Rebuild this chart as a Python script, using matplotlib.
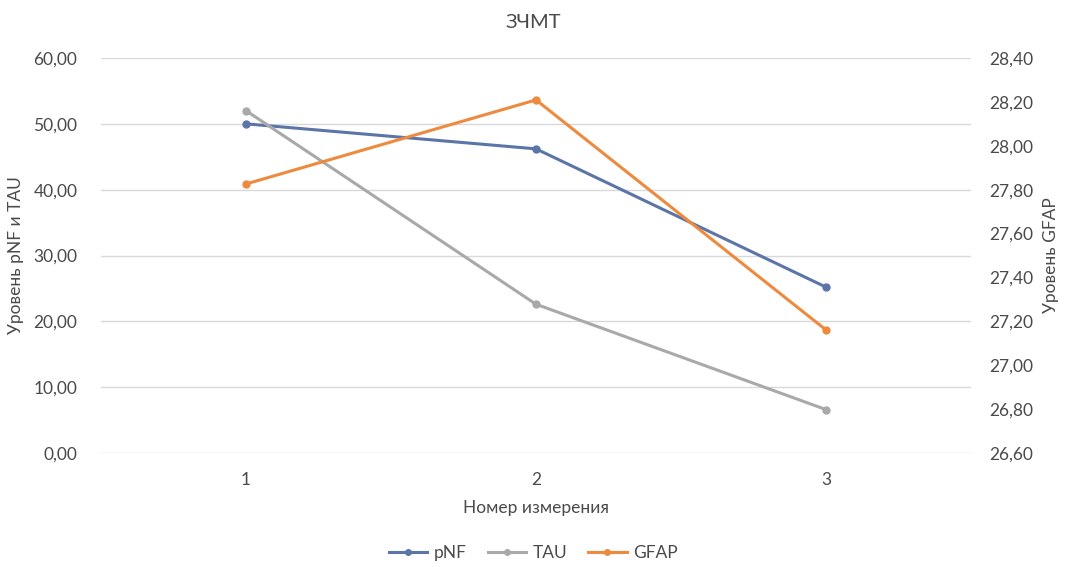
import matplotlib
matplotlib.use("Agg")
import matplotlib.pyplot as plt
from matplotlib.ticker import FuncFormatter, MultipleLocator

categories = ["1", "2", "3"]
pnf = [50.0, 46.2, 25.2]
tau = [52.0, 22.6, 6.6]
gfap = [27.826, 28.209, 27.161]

plt.rcParams['font.family'] = ['Lato', 'DejaVu Sans']

fig = plt.figure(figsize=(10.67, 5.67), dpi=100)
ax = fig.add_axes([0.0947, 0.201, 0.8153, 0.6967])
ax2 = ax.twinx()

x = list(range(len(categories)))
txt = '#4A4A4A'
l1, = ax.plot(x, pnf, color='#5B75A8', lw=2.2, marker='o', ms=5, label='pNF')
l2, = ax.plot(x, tau, color='#A9A9A9', lw=2.2, marker='o', ms=5, label='TAU')
l3, = ax2.plot(x, gfap, color='#ED8A3E', lw=2.2, marker='o', ms=5, label='GFAP')

ax.set_xlim(-0.5, 2.5)
ax.set_ylim(0, 60)
ax2.set_ylim(26.6, 28.4)
ax.yaxis.set_major_locator(MultipleLocator(10))
ax2.yaxis.set_major_locator(MultipleLocator(0.2))
fmt = FuncFormatter(lambda v, p: f"{v:.2f}".replace('.', ','))
ax.yaxis.set_major_formatter(fmt)
ax2.yaxis.set_major_formatter(fmt)
ax.set_xticks(x)
ax.set_xticklabels(categories)

ax.grid(axis='y', color='#D9D9D9', lw=1)
ax.set_axisbelow(True)
for a in (ax, ax2):
    for s in a.spines.values():
        s.set_visible(False)
    a.tick_params(length=0, labelsize=12.5, colors=txt)
ax.tick_params(axis='y', pad=17)
ax2.tick_params(axis='y', pad=13)
ax.tick_params(axis='x', pad=14)

ax.set_xlabel('Номер измерения', fontsize=12.5, color=txt, labelpad=8)
ax.set_ylabel('Уровень pNF и TAU', fontsize=12.5, color=txt, labelpad=7)
ax2.set_ylabel('Уровень GFAP', fontsize=12.5, color=txt, labelpad=7)
fig.text(0.5, 0.96, 'ЗЧМТ', ha='center', va='center', fontsize=14.5, color=txt)

fig.legend(handles=[l1, l2, l3], loc='center', bbox_to_anchor=(0.5, 0.025), ncol=3,
           frameon=False, fontsize=12.5, labelcolor=txt, handlelength=2.2,
           columnspacing=1.2, handletextpad=0.4, markerscale=0.8)

fig.savefig('out.png', dpi=100)
